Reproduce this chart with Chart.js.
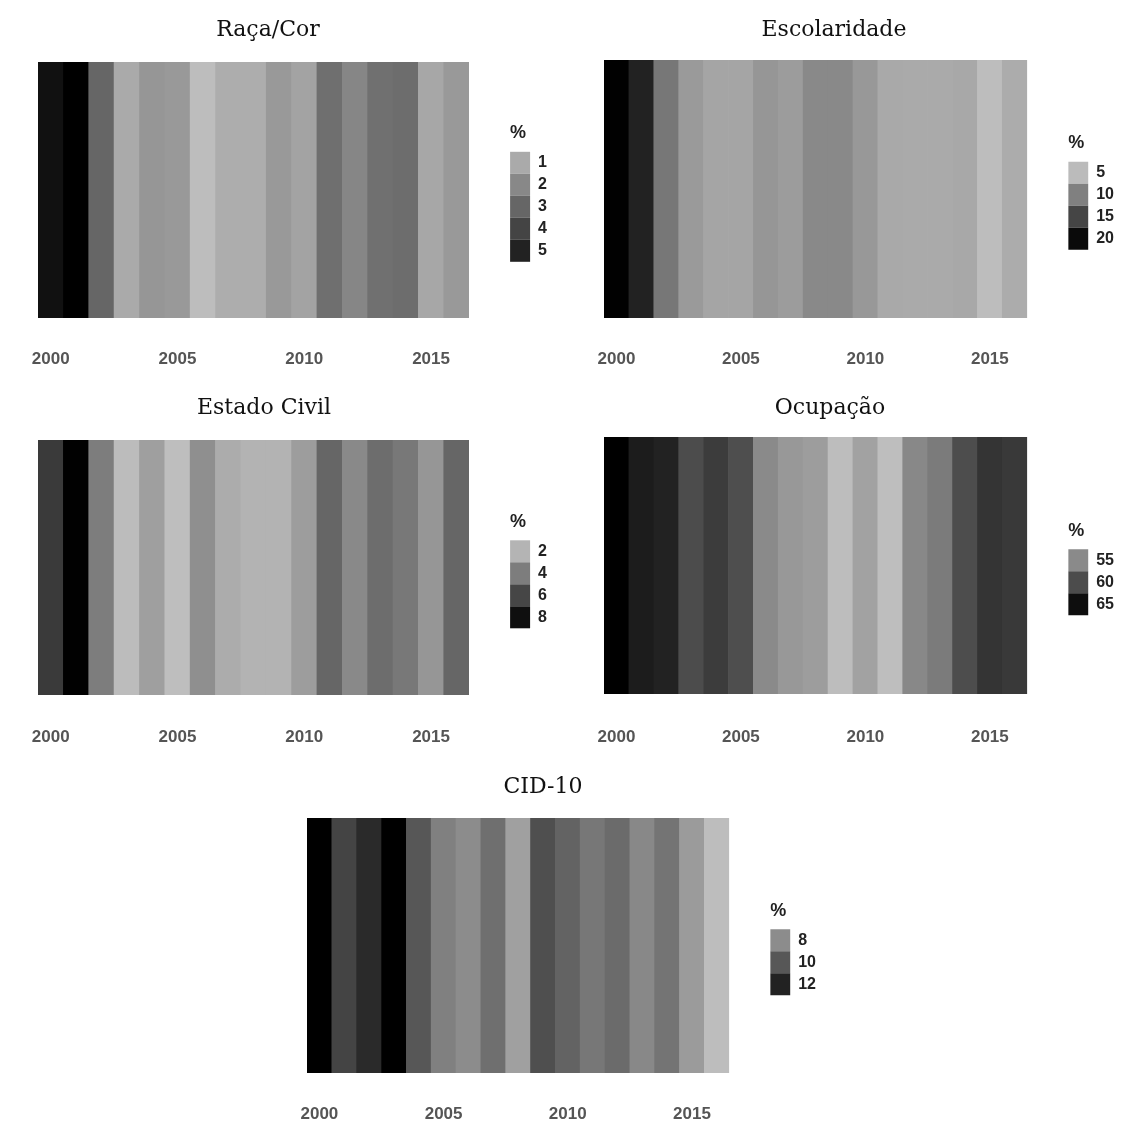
<!DOCTYPE html>
<html>
<head>
<meta charset="utf-8">
<script src="https://cdn.jsdelivr.net/npm/chart.js@4.4.0/dist/chart.umd.min.js"></script>
<style>
    body { margin: 0; background: #fff; }
    #page { position: relative; width: 1129px; height: 1128px; overflow: hidden; background: #fff; }
    #page canvas { position: absolute; }
</style>
</head>
<body>
<div id="page">
    <canvas id="racaCor"></canvas>
    <canvas id="escolaridade"></canvas>
    <canvas id="estadoCivil"></canvas>
    <canvas id="ocupacao"></canvas>
    <canvas id="cid10"></canvas>
</div>
<script>
// Years (x axis) and the ones that get a label
const years = [2000, 2001, 2002, 2003, 2004, 2005, 2006, 2007, 2008, 2009, 2010, 2011, 2012, 2013, 2014, 2015, 2016];
const tickYears = [2000, 2005, 2010, 2015];

// % per year, estimated from the gray shade of each cell
const racaCor = [5.5, 6.0, 3.0, 1.0, 1.6, 1.5, 0.45, 0.9, 0.9, 1.5, 1.2, 2.75, 2.05, 2.7, 2.8, 1.1, 1.5];
const escolaridade = [20.8, 18, 10.8, 7.8, 6.9, 6.9, 8.1, 7.6, 9.2, 9.2, 8.0, 6.5, 6.4, 6.4, 6.6, 4.8, 6.3];
const estadoCivil = [6.45, 8.5, 4.0, 1.7, 2.75, 1.65, 3.35, 2.3, 2.05, 2.05, 2.85, 4.85, 3.55, 4.6, 4.2, 3.1, 4.85];
const ocupacao = [66.1, 63.9, 63.4, 60.0, 61.3, 59.8, 55.0, 53.9, 53.5, 50.9, 53.1, 50.8, 55.2, 56.2, 59.9, 61.9, 61.5];
const cid10 = [13.3, 10.7, 11.7, 13.3, 10.0, 8.45, 8.0, 9.1, 7.25, 10.3, 9.55, 8.8, 9.25, 8.15, 8.9, 7.45, 6.15];

// Legend breaks
const racaCorBreaks = [1, 2, 3, 4, 5];
const escolaridadeBreaks = [5, 10, 15, 20];
const estadoCivilBreaks = [2, 4, 6, 8];
const ocupacaoBreaks = [55, 60, 65];
const cid10Breaks = [8, 10, 12];

// Linear gray ramp through two anchors [value, gray level]
function grayScale(lo, hi) {
    return function (v) {
        let g = lo[1] + (v - lo[0]) * (hi[1] - lo[1]) / (hi[0] - lo[0]);
        g = Math.round(Math.max(0, Math.min(255, g)));
        return 'rgb(' + g + ',' + g + ',' + g + ')';
    };
}

function hiddenAxis(position, width) {
    return {
        type: 'linear',
        position: position,
        min: 0,
        max: 1,
        grid: { display: false, drawTicks: false },
        border: { display: false },
        ticks: { display: false },
        afterFit: function (scale) { scale.width = width; }
    };
}

function heatStrip(id, box, title, values, breaks, shade) {
    const canvas = document.getElementById(id);
    canvas.width = box.w;
    canvas.height = box.h;
    canvas.style.left = box.x + 'px';
    canvas.style.top = box.y + 'px';

    new Chart(canvas.getContext('2d'), {
        type: 'bar',
        data: {
            labels: years,
            datasets: [{
                data: values.map(() => 1),
                backgroundColor: values.map(shade),
                borderWidth: 0,
                categoryPercentage: 1,
                barPercentage: 1,
                yAxisID: 'y'
            }]
        },
        options: {
            responsive: false,
            animation: false,
            devicePixelRatio: 1,
            layout: { padding: { left: 0, right: box.pr, top: 0, bottom: 0 } },
            plugins: {
                title: {
                    display: true,
                    text: title,
                    color: '#111',
                    font: { family: 'DejaVu Serif', size: 22, weight: 'normal' },
                    padding: { top: 17, bottom: box.tb - 2 }
                },
                legend: {
                    position: 'right',
                    align: 'center',
                    fullSize: false,
                    title: {
                        display: true,
                        text: '%',
                        position: 'start',
                        color: '#222',
                        font: { family: 'Liberation Sans', size: 18, weight: 'bold' },
                        padding: { top: 6, bottom: 6 }
                    },
                    labels: {
                        boxWidth: 20,
                        boxHeight: 22,
                        padding: 0,
                        color: '#222',
                        font: { family: 'Liberation Sans', size: 16, weight: 'bold' },
                        generateLabels: function () {
                            return breaks.map(b => ({
                                text: String(b),
                                fillStyle: shade(b),
                                strokeStyle: shade(b),
                                lineWidth: 0,
                                hidden: false,
                                datasetIndex: 0
                            }));
                        }
                    }
                },
                tooltip: { enabled: false }
            },
            scales: {
                x: {
                    type: 'category',
                    offset: true,
                    grid: { display: false, drawTicks: false },
                    border: { display: false },
                    ticks: {
                        autoSkip: false,
                        maxRotation: 0,
                        padding: box.tp + 1,
                        color: '#555',
                        font: { family: 'Liberation Sans', size: 17, weight: 'bold' },
                        callback: function (val, i) {
                            return tickYears.includes(years[i]) ? String(years[i]) : '';
                        }
                    },
                    afterFit: function (scale) { scale.height = 52; }
                },
                y: hiddenAxis('left', box.yw),
                gap: hiddenAxis('right', 41)
            }
        }
    });
}

heatStrip('racaCor', { x: -21, y: 0, w: 588, h: 370, pr: 10, yw: 59, tb: 20.6, tp: 30 },
    'Raça/Cor', racaCor, racaCorBreaks, grayScale([1, 170], [5, 34]));

heatStrip('escolaridade', { x: 544, y: 0, w: 584, h: 370, pr: 4, yw: 60, tb: 18.6, tp: 30 },
    'Escolaridade', escolaridade, escolaridadeBreaks, grayScale([5, 187], [20, 10]));

heatStrip('estadoCivil', { x: -29, y: 378, w: 596, h: 369, pr: 10, yw: 67, tb: 20.6, tp: 31 },
    'Estado Civil', estadoCivil, estadoCivilBreaks, grayScale([2, 180], [8, 15]));

heatStrip('ocupacao', { x: 536, y: 378, w: 592, h: 368, pr: 4, yw: 68, tb: 17.6, tp: 32 },
    'Ocupação', ocupacao, ocupacaoBreaks, grayScale([55, 138], [65, 14]));

heatStrip('cid10', { x: 260, y: 757, w: 576, h: 368, pr: 10, yw: 47, tb: 19.6, tp: 30 },
    'CID-10', cid10, cid10Breaks, grayScale([8, 140], [12, 34]));
</script>
</body>
</html>
